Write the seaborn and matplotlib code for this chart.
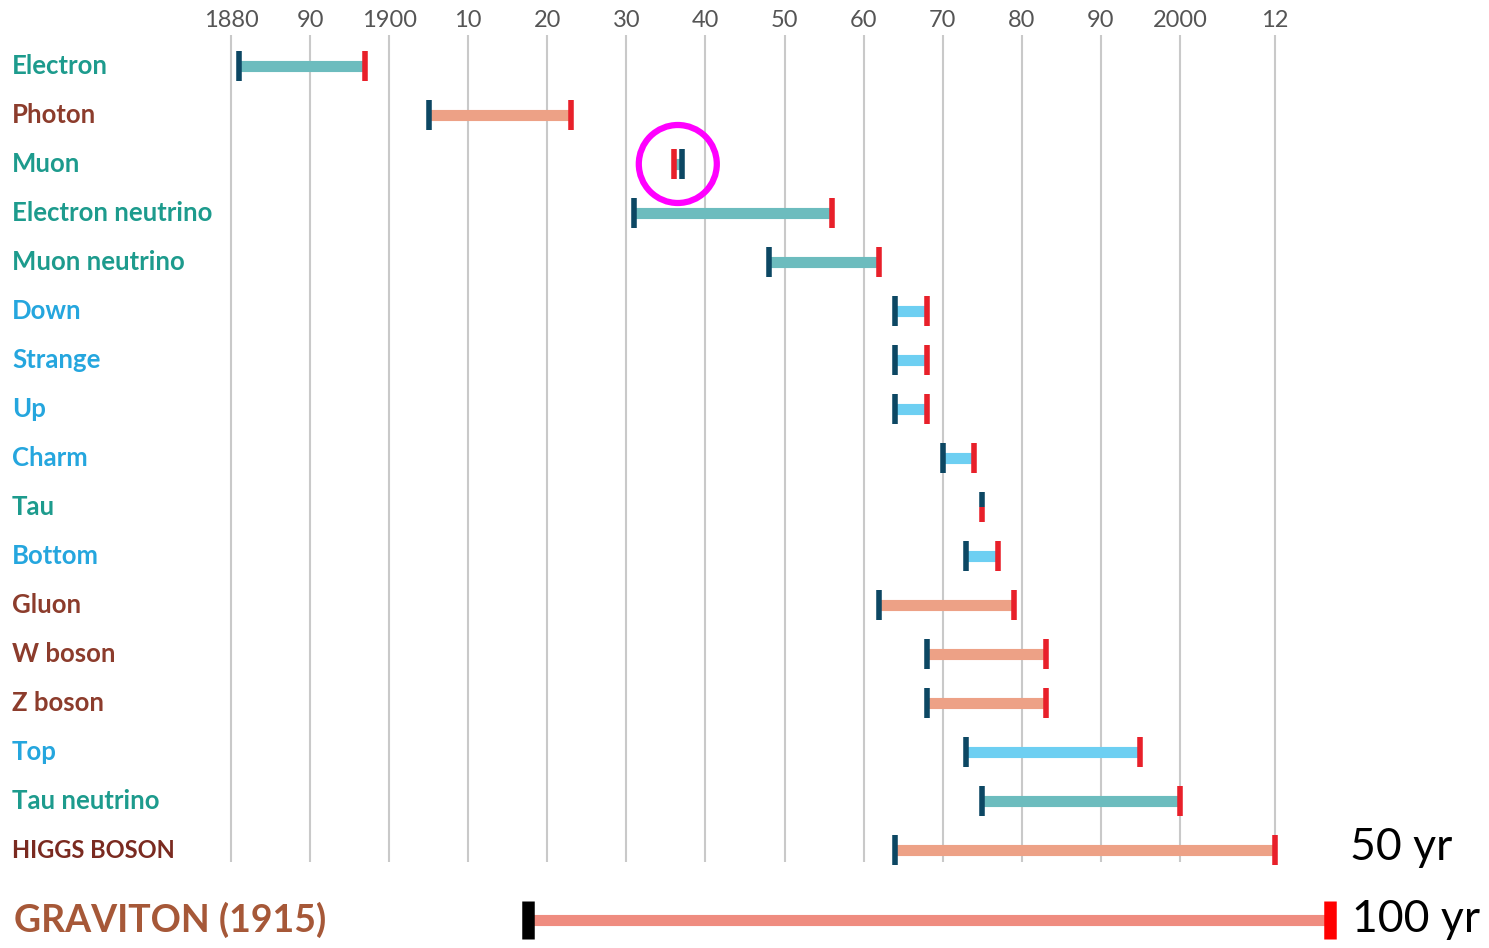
import numpy as np
import pandas as pd
import matplotlib.pyplot as plt
import seaborn as sns
from matplotlib.patches import Ellipse

# prediction -> discovery years
particles = ["Electron", "Photon", "Muon", "Electron neutrino", "Muon neutrino",
             "Down", "Strange", "Up", "Charm", "Tau", "Bottom", "Gluon",
             "W boson", "Z boson", "Top", "Tau neutrino", "HIGGS BOSON"]
predicted = [1881, 1905, 1937, 1931, 1948, 1964, 1964, 1964, 1970, 1975,
             1973, 1962, 1968, 1968, 1973, 1975, 1964]
discovered = [1897, 1923, 1936, 1956, 1962, 1968, 1968, 1968, 1974, 1975,
              1977, 1979, 1983, 1983, 1995, 2000, 2012]
family = ["lepton", "boson", "lepton", "lepton", "lepton", "quark", "quark",
          "quark", "quark", "lepton", "quark", "boson", "boson", "boson",
          "quark", "lepton", "higgs"]

year_ticks = [1880, 1890, 1900, 1910, 1920, 1930, 1940, 1950, 1960, 1970,
              1980, 1990, 2000, 2012]
year_labels = ["1880", "90", "1900", "10", "20", "30", "40", "50", "60", "70",
               "80", "90", "2000", "12"]

graviton_label = "GRAVITON (1915)"
graviton_span = [1917.5, 2019]
span_notes = ["50 yr", "100 yr"]

df = pd.DataFrame({"particle": particles, "start": predicted,
                   "end": discovered, "family": family})
df["row"] = np.arange(len(df))

bar_col = {"lepton": "#6cbcbe", "boson": "#eda186", "quark": "#6dcff2",
           "higgs": "#eda186"}
txt_col = {"lepton": "#1d9b8d", "boson": "#8c3c2c", "quark": "#25a6de",
           "higgs": "#7a2a20"}
dark = "#0c4763"
red = "#e8202a"

sns.set_theme(style="white")
plt.rcParams["font.family"] = ["Lato", "DejaVu Sans"]

fig = plt.figure(figsize=(14.89, 9.48), dpi=100)
ax = fig.add_axes([0, 0, 1, 1])
px_per_year = 7.908
x0 = 1880 - 231 / px_per_year
ax.set_xlim(x0, x0 + 1489 / px_per_year)
ax.set_ylim((948 - 66) / 49, -66 / 49)
ax.axis("off")

# vertical grid + top year labels
ax.vlines(year_ticks, -0.63, 16.24, color="#c9c9c9", lw=1.5, zorder=0)
for yr, lab in zip(year_ticks, year_labels):
    ax.text(yr, -0.93, lab, ha="center", va="center", fontsize=17,
            color="#555555")

ytr = ax.get_yaxis_transform()
h = 0.30
for _, r in df.iterrows():
    ax.hlines(r.row, r.start, r.end, color=bar_col[r.family], lw=8,
              zorder=2)
    if r.start == r.end:
        ax.vlines(r.start, r.row - h, r.row, color=dark, lw=4, zorder=3)
        ax.vlines(r.end, r.row, r.row + h, color=red, lw=4, zorder=3)
    else:
        ax.vlines(r.end, r.row - h, r.row + h, color=red, lw=4, zorder=3)
        ax.vlines(r.start, r.row - h, r.row + h, color=dark, lw=4, zorder=4)
    fs = 17 if r.family == "higgs" else 18.5
    ax.text(12 / 1489, r.row, r.particle, transform=ytr, ha="left",
            va="center", fontsize=fs, fontweight="bold",
            color=txt_col[r.family])

# muon highlight
mu = df[df.particle == "Muon"].iloc[0]
ax.add_patch(Ellipse(((mu.start + mu.end) / 2, mu.row), 78 / px_per_year,
                     78 / 49, fill=False, ec="#ff00ff", lw=4.5, zorder=5))

# graviton row
g_row = (920 - 66) / 49
ax.hlines(g_row, graviton_span[0], graviton_span[1], color="#ef8c80", lw=8,
          zorder=2)
ax.vlines(graviton_span[0], g_row - 0.39, g_row + 0.39, color="black", lw=9,
          zorder=3)
ax.vlines(graviton_span[1], g_row - 0.39, g_row + 0.39, color="#ff0000", lw=9,
          zorder=3)
ax.text(14 / 1489, g_row, graviton_label, transform=ytr, ha="left",
        va="center", fontsize=27, fontweight="bold", color="#a65838")

ax.text(1350 / 1489, 15.95, span_notes[0], transform=ytr, ha="left",
        va="center", fontsize=32, color="black")
ax.text(1352 / 1489, g_row, span_notes[1], transform=ytr, ha="left",
        va="center", fontsize=32, color="black")

fig.savefig("out.png", dpi=100)
